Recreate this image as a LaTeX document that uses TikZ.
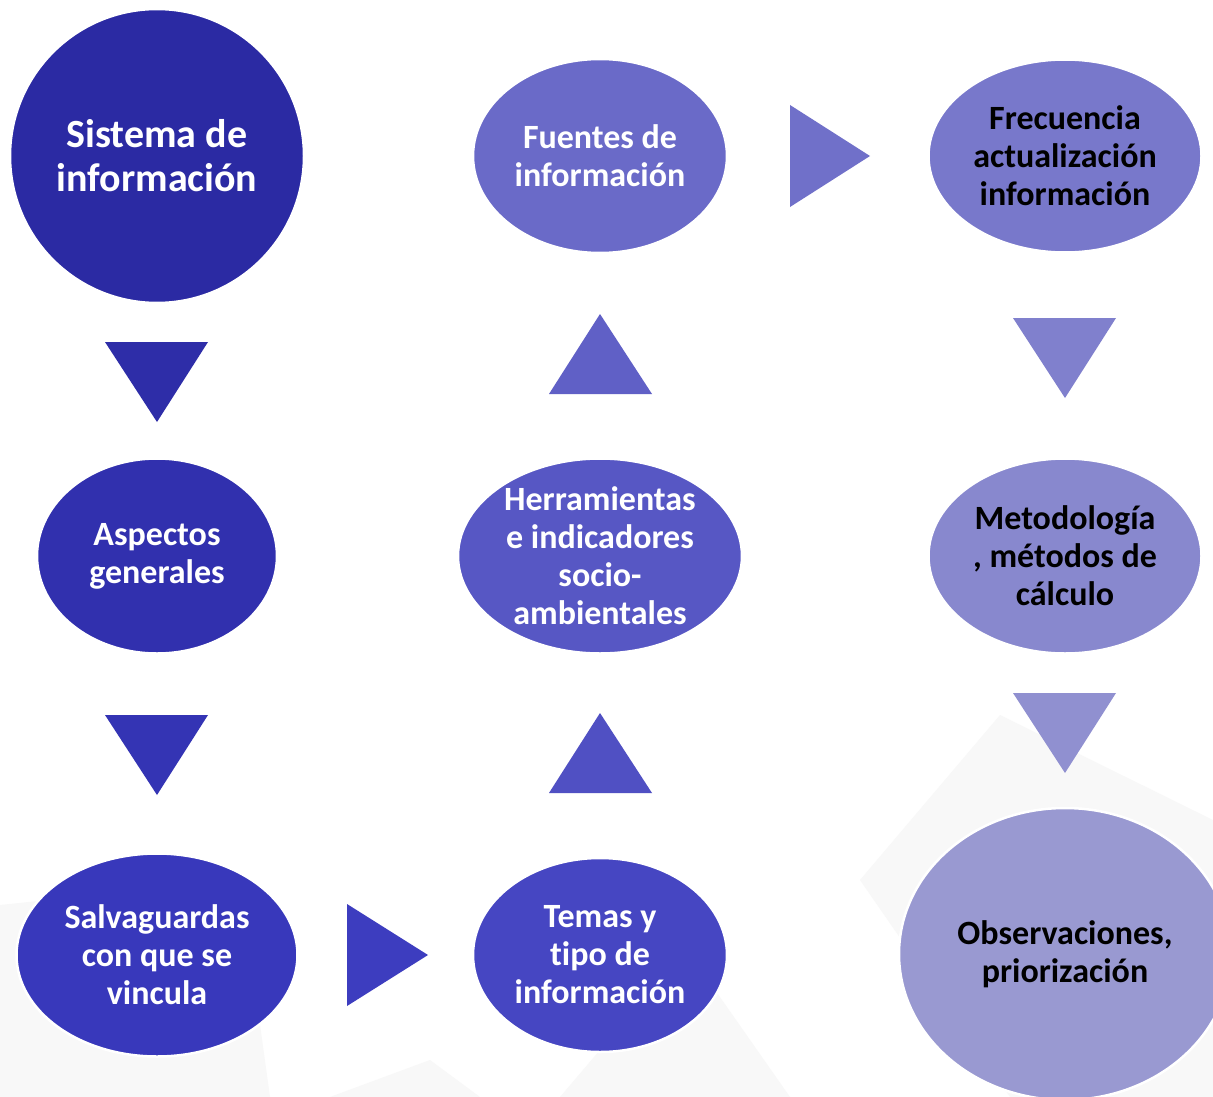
\documentclass[tikz,border=0pt]{standalone}
\usepackage{fontspec}
\setmainfont{Carlito}[Ligatures=NoCommon]
\usetikzlibrary{shapes.geometric}
\definecolor{c1}{HTML}{2B2AA3}
\definecolor{c2}{HTML}{2E2DA8}
\definecolor{c3}{HTML}{3130AE}
\definecolor{c4}{HTML}{3434B4}
\definecolor{c5}{HTML}{3838BB}
\definecolor{c6}{HTML}{3D3DBF}
\definecolor{c7}{HTML}{4646C2}
\definecolor{c8}{HTML}{5050C3}
\definecolor{c9}{HTML}{5757C4}
\definecolor{c10}{HTML}{6060C6}
\definecolor{c11}{HTML}{6A6AC8}
\definecolor{c12}{HTML}{7070C9}
\definecolor{c13}{HTML}{7878CB}
\definecolor{c14}{HTML}{8080CD}
\definecolor{c15}{HTML}{8888CE}
\definecolor{c16}{HTML}{9090D0}
\definecolor{c17}{HTML}{9999D1}
\definecolor{bgshape}{HTML}{F8F8F8}
\tikzset{
  x=1pt, y=-1pt,
  blob/.style={ellipse, draw=white, line width=2.5pt, inner sep=0pt},
  txt/.style={align=center, font=\fontsize{34}{38}\selectfont\bfseries, inner sep=0pt},
  bigtxt/.style={align=center, font=\fontsize{40}{44}\selectfont\bfseries, inner sep=0pt}
}
\begin{document}
\begin{tikzpicture}
\useasboundingbox (0,0) rectangle (1213,1097);
\fill[white] (0,0) rectangle (1213,1097);
% faint background shapes
\fill[bgshape] (0,905) -- (240,880) -- (270,1097) -- (0,1097) -- cycle;
\fill[bgshape] (560,1097) -- (600,1050) -- (680,940) -- (790,1097) -- cycle;
\fill[bgshape] (860,880) -- (1000,715) -- (1213,820) -- (1213,1097) -- (1010,1097) -- cycle;
\fill[bgshape] (330,1097) -- (430,1060) -- (480,1097) -- cycle;
% nodes
\node[blob, fill=c1, minimum width=294, minimum height=294] (sis) at (157,156) {};
\node[bigtxt, text=white] (sist) at (sis.center) {Sistema de\\información};
\node[blob, fill=c3, minimum width=240, minimum height=195] (asp) at (157,556) {};
\node[txt, text=white] (aspt) at (asp.center) {Aspectos\\generales};
\node[blob, fill=c5, minimum width=281, minimum height=203] (sal) at (157,955) {};
\node[txt, text=white] (salt) at (sal.center) {Salvaguardas\\con que se\\vincula};
\node[blob, fill=c7, minimum width=254, minimum height=194] (tem) at (600,955) {};
\node[txt, text=white] (temt) at (tem.center) {Temas y\\tipo de\\información};
\node[blob, fill=c9, minimum width=284, minimum height=195] (her) at (600,556) {};
\node[txt, text=white] (hert) at (her.center) {Herramientas\\e indicadores\\socio-\\ambientales};
\node[blob, fill=c11, minimum width=254, minimum height=194] (fue) at (600,156) {};
\node[txt, text=white] (fuet) at (fue.center) {Fuentes de\\información};
\node[blob, fill=c13, minimum width=273, minimum height=193] (fre) at (1065,156) {};
\node[txt, text=black] (fret) at (fre.center) {Frecuencia\\actualización\\información};
\node[blob, fill=c15, minimum width=273, minimum height=195] (met) at (1065,556) {};
\node[txt, text=black] (mett) at (met.center) {Metodología\\, métodos de\\cálculo};
\node[blob, fill=c17, minimum width=332, minimum height=292] (obs) at (1065,954) {};
\node[txt, text=black] (obst) at (obs.center) {Observaciones,\\priorización};
% triangle arrows
\fill[c2] (105,342) -- (208,342) -- (157,422) -- cycle;
\fill[c4] (105,715) -- (208,715) -- (157,795) -- cycle;
\fill[c6] (347,904) -- (428,955) -- (347,1006) -- cycle;
\fill[c8] (549,793) -- (652,793) -- (600,713) -- cycle;
\fill[c10] (549,394) -- (652,394) -- (600,314) -- cycle;
\fill[c12] (790,105) -- (870,156) -- (790,207) -- cycle;
\fill[c14] (1013,318) -- (1116,318) -- (1065,398) -- cycle;
\fill[c16] (1013,693) -- (1116,693) -- (1065,773) -- cycle;
\end{tikzpicture}
\end{document}
